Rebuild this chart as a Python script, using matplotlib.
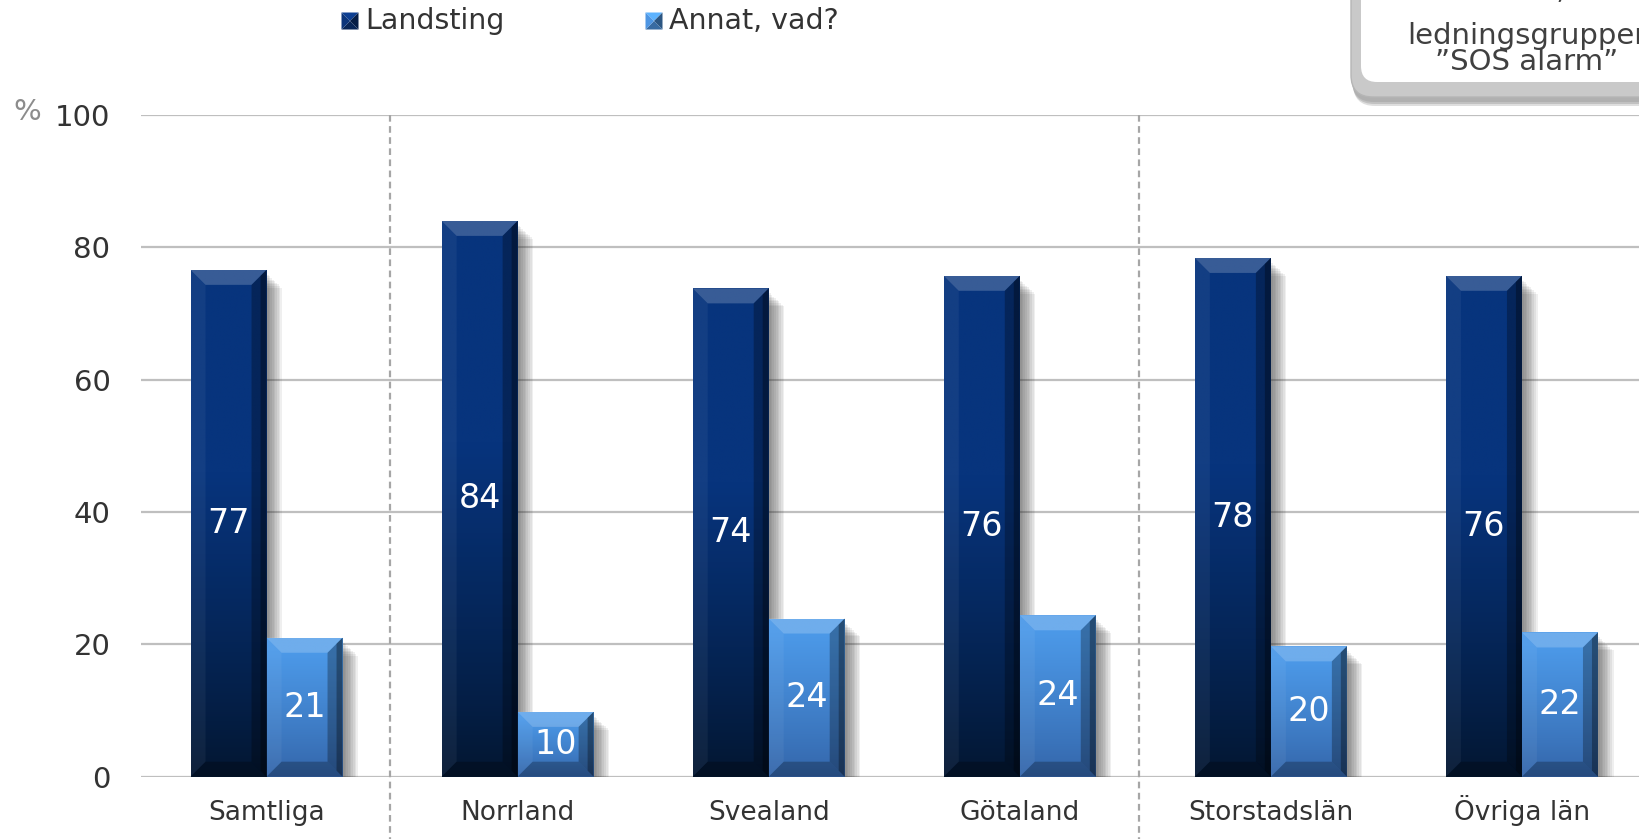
import numpy as np
import matplotlib
matplotlib.use("Agg")
import matplotlib.pyplot as plt
from matplotlib.patches import Rectangle, Polygon, FancyBboxPatch
from matplotlib.transforms import IdentityTransform, blended_transform_factory
from matplotlib.colors import to_rgb

# ---------------- data ----------------
categories = ["Samtliga", "Norrland", "Svealand", "Götaland", "Storstadslän", "Övriga län"]
series_names = ["Landsting", "Annat, vad?"]
landsting = [76.6, 84.0, 73.8, 75.7, 78.4, 75.7]
annat = [21.0, 9.8, 23.9, 24.4, 19.7, 21.8]
landsting_labels = ["77", "84", "74", "76", "78", "76"]
annat_labels = ["21", "10", "24", "24", "20", "22"]
yticks = [0, 20, 40, 60, 80, 100]
box_lines = ["lokal,", "ledningsgrupper", "\u201dSOS alarm\u201d"]

plt.rcParams['font.family'] = ['DejaVu Sans']

W, H = 1639, 839
fig = plt.figure(figsize=(W / 100, H / 100), dpi=100)
fig.patch.set_facecolor("white")

ax_l, ax_b = 141 / W, (H - 776.7) / H
ax_w, ax_h = (1647.5 - 141) / W, (776.7 - 115) / H
ax = fig.add_axes([ax_l, ax_b, ax_w, ax_h])
ax.set_xlim(-0.5, 5.5)
ax.set_ylim(0, 100)
for s in ax.spines.values():
    s.set_visible(False)

# pixel -> data scale
pxx = 6.0 / (ax_w * W)
pxy = 100.0 / (ax_h * H)

# grid
ax.set_yticks(yticks)
ax.yaxis.grid(True, color="#BFBFBF", lw=1.6, zorder=0)
ax.set_axisbelow(True)
ax.tick_params(axis="y", length=0, pad=22, labelsize=21, labelcolor="#333333")
x = np.arange(len(categories))
ax.set_xticks(x)
ax.set_xticklabels(categories)
ax.tick_params(axis="x", length=0, pad=31, labelsize=19, labelcolor="#333333")
for lab in ax.get_xticklabels():
    lab.set_verticalalignment("baseline")

# separators
trans = blended_transform_factory(ax.transData, ax.transAxes)
for sx in [0.49, 3.475]:
    ax.plot([sx, sx], [1.0, -ax_b / ax_h - 0.01], transform=trans, color="#A6A6A6",
            lw=1.6, ls=(0, (3, 2)), clip_on=False, zorder=1)

bw = 76 * pxx
bx = 15 * pxx
by = 15 * pxy


def mix(c1, c2, t):
    c1, c2 = np.array(to_rgb(c1)), np.array(to_rgb(c2))
    return c1 * (1 - t) + c2 * t


def fancy_bar(x0, h, top_col, bot_col, label, flat_from):
    x1 = x0 + bw
    # shadow
    for k in range(9):
        dx = (2 + k * 1.7) * pxx
        dtop = (5 + k * 1.6) * pxy
        ax.add_patch(Rectangle((x0 + dx, -3 * pxy), bw, h - dtop + 3 * pxy,
                               facecolor="#303030", alpha=0.075, lw=0, zorder=2))
    # gradient body
    n = 200
    t = np.clip(np.linspace(0, 1, n) / flat_from, 0, 1) ** 0.85
    colv = np.array([mix(bot_col, top_col, tt) for tt in t])
    img = colv[:, None, :]
    im = ax.imshow(img, extent=(x0, x1, 0, h), origin="lower", aspect="auto",
                   interpolation="bilinear", zorder=3)
    clip = Rectangle((x0, 0), bw, h, transform=ax.transData, facecolor="none", lw=0)
    ax.add_patch(clip)
    im.set_clip_path(clip)
    bxx = min(bx, bw / 2)
    byy = min(by, h / 2)
    # bevels
    ax.add_patch(Polygon([(x0, h), (x1, h), (x1 - bxx, h - byy), (x0 + bxx, h - byy)],
                         closed=True, facecolor="white", alpha=0.2, lw=0, zorder=4))
    ax.add_patch(Polygon([(x1, h), (x1, 0), (x1 - bxx, byy), (x1 - bxx, h - byy)],
                         closed=True, facecolor="black", alpha=0.28, lw=0, zorder=4))
    ax.add_patch(Polygon([(x1, h), (x1, 0), (x1 - bxx * 0.4, byy * 0.4), (x1 - bxx * 0.4, h - byy * 0.4)],
                         closed=True, facecolor="black", alpha=0.3, lw=0, zorder=4))
    ax.add_patch(Polygon([(x0, h), (x0, 0), (x0 + bxx, byy), (x0 + bxx, h - byy)],
                         closed=True, facecolor="white", alpha=0.05, lw=0, zorder=4))
    ax.add_patch(Polygon([(x0, 0), (x1, 0), (x1 - bxx, byy), (x0 + bxx, byy)],
                         closed=True, facecolor="black", alpha=0.25, lw=0, zorder=4))
    ax.text(x0 + bw / 2, h / 2, label, ha="center", va="center", color="white",
            fontsize=24, zorder=5)


for i in range(len(categories)):
    fancy_bar(x[i] - bw, landsting[i], "#07347D", "#031630", landsting_labels[i], 0.6)
    fancy_bar(x[i], annat[i], "#4C99E8", "#3364A8", annat_labels[i], 0.9)

ax.set_xlim(-0.5, 5.5)
ax.set_ylim(0, 100)

# % label
fig.text(27 / W, (H - 112) / H, "%", ha="center", va="center", fontsize=21, color="#8C8C8C")

# legend (manual)
idt = IdentityTransform()


def legend_marker(cx, cy, col, s=17):
    c = np.array(to_rgb(col))
    h2 = s / 2
    pts = {
        "top": [(cx - h2, cy + h2), (cx + h2, cy + h2), (cx, cy)],
        "right": [(cx + h2, cy + h2), (cx + h2, cy - h2), (cx, cy)],
        "bottom": [(cx + h2, cy - h2), (cx - h2, cy - h2), (cx, cy)],
        "left": [(cx - h2, cy - h2), (cx - h2, cy + h2), (cx, cy)],
    }
    shade = {"top": 1.25, "left": 1.05, "right": 0.6, "bottom": 0.75}
    for k, p in pts.items():
        fc = np.clip(c * shade[k], 0, 1)
        fig.patches.append(Polygon(p, closed=True, facecolor=fc, lw=0, transform=idt, figure=fig))


legend_marker(350, H - 21, "#0A3275")
fig.text(365 / W, (H - 21) / H, series_names[0], ha="left", va="center", fontsize=20.5, color="#333333")
legend_marker(654, H - 21, "#4A8FD8")
fig.text(669 / W, (H - 21) / H, series_names[1], ha="left", va="center", fontsize=20.5, color="#333333")

# top-right box (partially visible)
for k, (off, col, a) in enumerate([(7, "#7F7F7F", 0.25), (5, "#8C8C8C", 0.35), (3, "#A0A0A0", 0.5)]):
    fig.patches.append(FancyBboxPatch((1351 + off * 0.3, H - 99 - off), 400, 300,
                                      boxstyle="round,pad=0,rounding_size=22",
                                      facecolor=col, alpha=a, lw=0, transform=idt, figure=fig))
fig.patches.append(FancyBboxPatch((1351, H - 97), 400, 300,
                                  boxstyle="round,pad=0,rounding_size=22",
                                  facecolor="#C9C9C9", edgecolor="#B5B5B5", lw=1, transform=idt, figure=fig))
fig.patches.append(FancyBboxPatch((1361, H - 82), 400, 300,
                                  boxstyle="round,pad=0,rounding_size=16",
                                  facecolor="white", lw=0, transform=idt, figure=fig))
fig.text(1527 / W, (H + 1) / H, box_lines[0], ha="center", va="baseline", fontsize=21, color="#404040")
fig.text(1527 / W, (H - 35.5) / H, box_lines[1], ha="center", va="center", fontsize=21, color="#404040")
fig.text(1527 / W, (H - 62) / H, box_lines[2], ha="center", va="center", fontsize=21, color="#404040")

fig.savefig("out.png", dpi=100, facecolor="white")
